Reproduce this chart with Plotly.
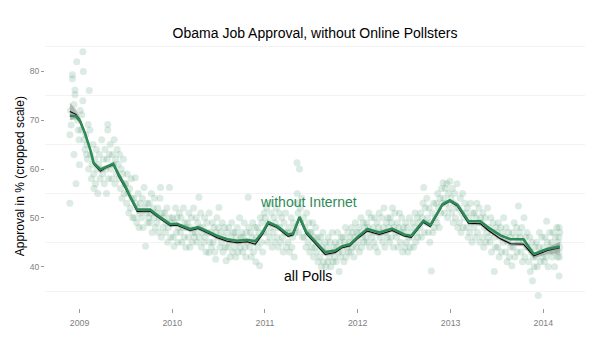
import plotly.graph_objects as go

# ---------------- data ----------------
# smoothed trend, polls without online pollsters (green) and all polls (black)
trend_dates = ["2008-11-24", "2008-12-18", "2009-01-03", "2009-01-23", "2009-02-12", "2009-02-25",
               "2009-03-24", "2009-04-16", "2009-05-14", "2009-06-03", "2009-06-30", "2009-07-19",
               "2009-08-16", "2009-10-06", "2009-11-07", "2009-12-24", "2010-01-20", "2010-03-12",
               "2010-04-13", "2010-05-30", "2010-06-27", "2010-08-06", "2010-09-14", "2010-10-23",
               "2010-11-24", "2010-12-22", "2011-01-14", "2011-02-18", "2011-04-02", "2011-04-22",
               "2011-05-17", "2011-06-12", "2011-07-17", "2011-08-26", "2011-10-05", "2011-11-01",
               "2011-12-02", "2011-12-30", "2012-02-08", "2012-03-26", "2012-05-16", "2012-07-02",
               "2012-07-30", "2012-09-16", "2012-10-13", "2012-11-30", "2012-12-29", "2013-01-28",
               "2013-03-12", "2013-04-28", "2013-05-30", "2013-07-16", "2013-08-25", "2013-10-15",
               "2013-11-24", "2014-01-17", "2014-03-07"]
without_internet = [70.9, 70.8, 69.8, 67.2, 64.0, 61.3, 59.9, 60.5, 61.1, 59.0, 56.5, 54.4,
                    51.7, 51.7, 50.4, 48.7, 48.8, 47.7, 48.1, 47.0, 46.3, 45.6, 45.3, 45.5,
                    45.2, 47.0, 49.1, 48.3, 46.6, 46.8, 50.2, 47.2, 45.3, 43.0, 43.3, 44.2,
                    44.6, 46.0, 47.7, 47.0, 47.8, 46.6, 46.3, 49.4, 48.5, 52.8, 53.6, 52.7,
                    49.3, 49.3, 48.0, 46.4, 45.6, 45.6, 42.6, 43.6, 44.1]
all_polls = [71.8, 71.2, 70.0, 67.4, 64.0, 61.1, 59.6, 60.3, 60.9, 58.6, 56.1, 54.1,
             51.3, 51.4, 50.1, 48.4, 48.5, 47.4, 47.8, 46.7, 45.9, 45.2, 44.9, 45.1,
             44.6, 46.6, 48.8, 48.0, 46.2, 46.5, 49.9, 46.8, 44.8, 42.5, 42.9, 43.9,
             44.3, 45.7, 47.3, 46.6, 47.4, 46.3, 46.0, 49.1, 48.2, 52.6, 53.4, 52.4,
             48.9, 48.8, 47.4, 45.7, 44.7, 44.6, 42.2, 43.3, 43.9]
all_polls_band = [1.8, 1.0, 0.6, 0.5, 0.5, 0.4, 0.4, 0.4, 0.4, 0.4, 0.4, 0.4,
                  0.4, 0.4, 0.3, 0.3, 0.3, 0.3, 0.3, 0.3, 0.3, 0.3, 0.3, 0.3,
                  0.3, 0.3, 0.3, 0.3, 0.3, 0.3, 0.4, 0.3, 0.3, 0.3, 0.3, 0.3,
                  0.3, 0.3, 0.3, 0.3, 0.3, 0.3, 0.3, 0.3, 0.3, 0.3, 0.3, 0.3,
                  0.3, 0.3, 0.3, 0.3, 0.4, 0.4, 0.5, 0.7, 1.2]

# individual polls: (month, day, approval)
polls_2008 = [(11, 24, 53), (11, 24, 67), (11, 27, 72), (11, 29, 69),
              (12, 4, 79.3), (12, 4, 78.5), (12, 10, 73.2), (12, 10, 63), (12, 14, 76.2), (12, 14, 75.2),
              (12, 18, 57), (12, 21, 82), (12, 24, 70), (12, 27, 68), (12, 7, 71), (12, 30, 66)]
polls_2009 = [(1, 1, 60.9), (1, 4, 72), (1, 7, 68), (1, 10, 71.1), (1, 14, 84), (1, 14, 74), (1, 16, 80),
              (1, 19, 66), (1, 22, 64), (1, 25, 67), (1, 28, 63), (1, 30, 65),
              (2, 1, 62), (2, 4, 69.1), (2, 6, 60), (2, 8, 76.1), (2, 11, 68), (2, 14, 63), (2, 17, 58),
              (2, 20, 61), (2, 23, 65), (2, 26, 59), (2, 27, 56),
              (3, 2, 62), (3, 5, 57), (3, 8, 64), (3, 11, 60), (3, 14, 55), (3, 17, 61), (3, 20, 63),
              (3, 23, 58), (3, 26, 60), (3, 29, 66),
              (4, 2, 59), (4, 5, 62), (4, 8, 57), (4, 11, 64), (4, 14, 60), (4, 17, 55), (4, 20, 62),
              (4, 22, 69.1), (4, 22, 68), (4, 25, 58), (4, 28, 63),
              (5, 2, 65), (5, 5, 60), (5, 8, 58), (5, 11, 63), (5, 14, 61), (5, 17, 66), (5, 20, 57),
              (5, 23, 62), (5, 26, 59), (5, 29, 64),
              (6, 2, 61), (6, 5, 58), (6, 8, 63), (6, 11, 56), (6, 14, 60), (6, 17, 54), (6, 20, 59),
              (6, 23, 62), (6, 26, 55), (6, 29, 57),
              (7, 2, 57), (7, 5, 53), (7, 8, 59), (7, 11, 55), (7, 14, 51), (7, 17, 56), (7, 20, 52),
              (7, 23, 58), (7, 26, 54), (7, 29, 50),
              (8, 2, 54), (8, 5, 50), (8, 8, 58.2), (8, 11, 53), (8, 14, 49), (8, 17, 52), (8, 20, 55),
              (8, 23, 48), (8, 26, 51), (8, 29, 53),
              (9, 2, 50), (9, 5, 54), (9, 8, 48), (9, 12, 56.2), (9, 15, 52), (9, 18, 44.2), (9, 21, 51),
              (9, 24, 53), (9, 27, 49), (9, 30, 50),
              (10, 2, 53), (10, 5, 49), (10, 8, 51), (10, 11, 55), (10, 14, 47), (10, 17, 52), (10, 20, 50),
              (10, 23, 54), (10, 26, 48), (10, 29, 51),
              (11, 2, 49), (11, 5, 52), (11, 8, 47), (11, 11, 50), (11, 14, 54), (11, 16, 56.2), (11, 19, 46),
              (11, 22, 51), (11, 25, 48), (11, 28, 50),
              (12, 2, 51), (12, 5, 47), (12, 8, 49), (12, 11, 52), (12, 14, 45), (12, 17, 48), (12, 21, 56.2),
              (12, 23, 50), (12, 26, 46), (12, 29, 49)]
polls_2010 = [(1, 2, 50), (1, 5, 46), (1, 8, 44.2), (1, 11, 49), (1, 14, 52), (1, 17, 47), (1, 20, 50),
              (1, 23, 45), (1, 26, 48), (1, 29, 51),
              (2, 2, 47), (2, 5, 50), (2, 8, 45), (2, 11, 48), (2, 14, 52), (2, 17, 46), (2, 20, 49),
              (2, 23, 44), (2, 26, 48),
              (3, 2, 49), (3, 5, 46), (3, 8, 51), (3, 11, 44), (3, 14, 48), (3, 17, 50), (3, 20, 45),
              (3, 23, 47), (3, 26, 52), (3, 29, 46),
              (4, 2, 47), (4, 5, 50), (4, 8, 45), (4, 11, 49), (4, 16, 54.2), (4, 17, 46), (4, 20, 48),
              (4, 23, 51), (4, 26, 44), (4, 29, 47),
              (5, 2, 48), (5, 5, 45), (5, 8, 50), (5, 11, 46), (5, 14, 43), (5, 17, 49), (5, 20, 47),
              (5, 25, 42.9), (5, 26, 51), (5, 29, 45),
              (6, 2, 47), (6, 5, 44), (6, 8, 49), (6, 11, 45), (6, 14, 48), (6, 17, 43), (6, 21, 41.5),
              (6, 23, 47), (6, 26, 50), (6, 29, 46),
              (7, 2, 48), (7, 4, 52.1), (7, 8, 44), (7, 11, 47), (7, 14, 45), (7, 17, 49), (7, 20, 43),
              (7, 23, 46), (7, 26, 48), (7, 29, 44),
              (8, 1, 41.2), (8, 5, 47), (8, 8, 44), (8, 11, 48), (8, 14, 45), (8, 17, 42), (8, 20, 46),
              (8, 23, 49), (8, 26, 43), (8, 29, 47),
              (9, 2, 44), (9, 5, 47), (9, 8, 42), (9, 11, 46), (9, 14, 48), (9, 17, 43), (9, 20, 45),
              (9, 23, 50), (9, 26, 44), (9, 29, 46),
              (10, 2, 47), (10, 5, 43), (10, 8, 46), (10, 11, 49), (10, 14, 44), (10, 17, 42), (10, 20, 47),
              (10, 23, 45), (10, 27, 54.2), (10, 29, 48),
              (11, 2, 44), (11, 5, 47), (11, 8, 42), (11, 11, 46), (11, 14, 49), (11, 17, 43), (11, 20, 45),
              (11, 23, 48), (11, 26, 41), (11, 29, 46),
              (12, 2, 48), (12, 5, 44), (12, 8, 47), (12, 11, 40.2), (12, 14, 50), (12, 17, 45), (12, 20, 49),
              (12, 23, 43), (12, 26, 47), (12, 29, 51)]
polls_2011 = [(1, 2, 50), (1, 5, 47), (1, 8, 52), (1, 11, 45), (1, 14, 49), (1, 17, 53), (1, 20, 46),
              (1, 23, 48), (1, 26, 51), (1, 29, 44),
              (2, 2, 47), (2, 5, 50), (2, 8, 45), (2, 11, 49), (2, 14, 52), (2, 17, 46), (2, 20, 48),
              (2, 23, 44), (2, 26, 51),
              (3, 2, 48), (3, 5, 45), (3, 8, 50), (3, 11, 46), (3, 14, 43), (3, 17, 49), (3, 20, 47),
              (3, 23, 51), (3, 26, 44), (3, 29, 47),
              (4, 2, 45), (4, 5, 48), (4, 8, 43), (4, 11, 47), (4, 14, 50), (4, 17, 44), (4, 20, 46),
              (4, 23, 49), (4, 26, 42), (4, 29, 47),
              (5, 2, 48), (5, 5, 53), (5, 7, 61.3), (5, 8, 55), (5, 11, 51), (5, 14, 47), (5, 17, 60),
              (5, 20, 52), (5, 23, 49), (5, 26, 54), (5, 29, 46),
              (6, 2, 50), (6, 5, 46), (6, 8, 48), (6, 11, 44), (6, 14, 51), (6, 17, 47), (6, 20, 45),
              (6, 23, 49), (6, 26, 43), (6, 29, 47),
              (7, 2, 47), (7, 5, 44), (7, 8, 49), (7, 11, 42), (7, 14, 46), (7, 17, 44), (7, 20, 48),
              (7, 23, 43), (7, 26, 46), (7, 29, 41),
              (8, 2, 45), (8, 5, 42), (8, 8, 46), (8, 11, 40), (8, 14, 44), (8, 17, 47), (8, 20, 41),
              (8, 23, 43), (8, 26, 45), (8, 29, 40),
              (9, 2, 44), (9, 5, 41), (9, 8, 46), (9, 11, 42), (9, 14, 45), (9, 17, 40), (9, 20, 43),
              (9, 23, 47), (9, 26, 41), (9, 29, 44),
              (10, 2, 42), (10, 5, 45), (10, 8, 41), (10, 11, 44), (10, 14, 47), (10, 17, 43), (10, 20, 39),
              (10, 23, 45), (10, 26, 42), (10, 29, 46),
              (11, 2, 43), (11, 5, 46), (11, 8, 41), (11, 11, 45), (11, 14, 48), (11, 17, 42), (11, 20, 44),
              (11, 23, 47), (11, 26, 43), (11, 29, 45),
              (12, 2, 46), (12, 5, 43), (12, 8, 48), (12, 11, 44), (12, 14, 47), (12, 17, 42), (12, 20, 46),
              (12, 23, 49), (12, 26, 44), (12, 29, 47)]
polls_2012 = [(1, 2, 45), (1, 5, 48), (1, 8, 43), (1, 11, 47), (1, 14, 50), (1, 17, 44), (1, 20, 46),
              (1, 23, 49), (1, 26, 45), (1, 29, 48),
              (2, 2, 46), (2, 5, 49), (2, 8, 45), (2, 11, 48), (2, 14, 51), (2, 17, 44), (2, 20, 47),
              (2, 23, 50), (2, 26, 46),
              (3, 2, 48), (3, 5, 45), (3, 8, 50), (3, 11, 44), (3, 14, 47), (3, 17, 49), (3, 20, 43),
              (3, 23, 48), (3, 26, 51), (3, 29, 46),
              (4, 2, 47), (4, 5, 50), (4, 8, 45), (4, 11, 48), (4, 14, 52), (4, 17, 44), (4, 20, 47),
              (4, 23, 49), (4, 26, 46), (4, 29, 50),
              (5, 2, 48), (5, 5, 45), (5, 8, 50), (5, 11, 46), (5, 14, 49), (5, 17, 52), (5, 20, 44),
              (5, 23, 48), (5, 26, 51), (5, 29, 47),
              (6, 2, 46), (6, 5, 49), (6, 8, 44), (6, 11, 48), (6, 14, 51), (6, 17, 45), (6, 20, 47),
              (6, 23, 50), (6, 26, 43), (6, 29, 48),
              (7, 2, 47), (7, 5, 44), (7, 8, 49), (7, 11, 45), (7, 14, 48), (7, 17, 43), (7, 20, 46),
              (7, 23, 50), (7, 26, 44), (7, 29, 47),
              (8, 2, 46), (8, 5, 49), (8, 8, 44), (8, 11, 48), (8, 14, 51), (8, 17, 45), (8, 20, 47),
              (8, 23, 50), (8, 26, 46), (8, 29, 49),
              (9, 2, 48), (9, 5, 51), (9, 8, 46), (9, 11, 50), (9, 14, 53), (9, 17, 56.2), (9, 20, 47),
              (9, 23, 52), (9, 26, 49), (9, 29, 54),
              (10, 2, 50), (10, 5, 47), (10, 8, 52), (10, 11, 45), (10, 14, 49), (10, 17, 39.1), (10, 20, 51),
              (10, 23, 47), (10, 26, 53), (10, 29, 48),
              (11, 2, 50), (11, 5, 53), (11, 8, 49), (11, 11, 55), (11, 14, 52), (11, 17, 48), (11, 20, 54),
              (11, 23, 51), (11, 26, 56), (11, 29, 53),
              (12, 2, 57.2), (12, 5, 54), (12, 8, 51), (12, 11, 56), (12, 14, 53), (12, 17, 57), (12, 20, 50),
              (12, 23, 55), (12, 26, 52), (12, 29, 57.5)]
polls_2013 = [(1, 2, 54), (1, 5, 51), (1, 8, 56), (1, 11, 49), (1, 14, 53), (1, 17, 55), (1, 20, 50),
              (1, 23, 52), (1, 26, 57), (1, 29, 48),
              (2, 2, 52), (2, 5, 49), (2, 8, 54), (2, 11, 47), (2, 14, 51), (2, 17, 55), (2, 20, 48),
              (2, 23, 50), (2, 26, 53),
              (3, 2, 51), (3, 5, 48), (3, 8, 52), (3, 11, 46), (3, 14, 50), (3, 17, 47), (3, 20, 53),
              (3, 23, 49), (3, 26, 45), (3, 29, 51),
              (4, 2, 48), (4, 5, 51), (4, 8, 46), (4, 11, 50), (4, 14, 53), (4, 17, 47), (4, 20, 49),
              (4, 23, 52), (4, 26, 45), (4, 29, 50),
              (5, 2, 49), (5, 5, 46), (5, 8, 51), (5, 11, 44), (5, 14, 48), (5, 17, 50), (5, 20, 45),
              (5, 23, 47), (5, 26, 52), (5, 29, 46),
              (6, 2, 48), (6, 5, 45), (6, 8, 50), (6, 11, 43), (6, 14, 47), (6, 17, 49), (6, 22, 39),
              (6, 23, 46), (6, 26, 44), (6, 29, 48),
              (7, 2, 47), (7, 5, 44), (7, 8, 49), (7, 11, 42), (7, 14, 46), (7, 17, 48), (7, 20, 43),
              (7, 23, 47), (7, 26, 45), (7, 29, 50),
              (8, 2, 46), (8, 5, 43), (8, 8, 48), (8, 11, 41), (8, 14, 45), (8, 17, 47), (8, 20, 42),
              (8, 23, 46), (8, 26, 44), (8, 30, 40.2),
              (9, 2, 47), (9, 5, 44), (9, 8, 49), (9, 11, 42), (9, 14, 46), (9, 17, 48), (9, 20, 43),
              (9, 25, 52.4), (9, 26, 45), (9, 29, 47),
              (10, 2, 46), (10, 5, 43), (10, 8, 48), (10, 11, 41), (10, 14, 45), (10, 17, 50), (10, 20, 42),
              (10, 23, 46), (10, 26, 44), (10, 29, 47),
              (11, 2, 44), (11, 5, 41), (11, 8, 46), (11, 11, 39), (11, 14, 43), (11, 17, 45), (11, 19, 37.1),
              (11, 23, 42), (11, 26, 40), (11, 29, 44),
              (12, 2, 42), (12, 5, 45), (12, 8, 40), (12, 12, 34.1), (12, 14, 44), (12, 17, 47), (12, 20, 41),
              (12, 23, 43), (12, 26, 46), (12, 29, 42)]
polls_2014 = [(1, 2, 44), (1, 5, 41), (1, 8, 46), (1, 11, 42), (1, 14, 49.3), (1, 17, 45), (1, 20, 40),
              (1, 23, 43), (1, 26, 47), (1, 29, 44),
              (2, 2, 45), (2, 5, 42), (2, 8, 47), (2, 11, 43), (2, 14, 40), (2, 17, 46), (2, 20, 44),
              (2, 23, 48), (2, 26, 42),
              (3, 1, 45), (3, 2, 43), (3, 3, 46), (3, 4, 48), (3, 4, 38.1), (3, 5, 42), (3, 6, 44), (3, 7, 47)]

y_ticks = [40, 50, 60, 70, 80]
y_grid = [35, 45, 55, 65, 75, 85]
x_ticks = ["2009-01-01", "2010-01-01", "2011-01-01", "2012-01-01", "2013-01-01", "2014-01-01"]
x_tick_labels = ["2009", "2010", "2011", "2012", "2013", "2014"]

GREEN = "#2E8B57"
FONT = "Liberation Sans, Arial, sans-serif"

# ---------------- build ----------------
poll_x, poll_y = [], []
for year, pts in [(2008, polls_2008), (2009, polls_2009), (2010, polls_2010), (2011, polls_2011),
                  (2012, polls_2012), (2013, polls_2013), (2014, polls_2014)]:
    for m, d, v in pts:
        poll_x.append(f"{year}-{m:02d}-{d:02d}")
        poll_y.append(v)

band_lo = [a - b for a, b in zip(all_polls, all_polls_band)]
band_hi = [a + b for a, b in zip(all_polls, all_polls_band)]

fig = go.Figure()
fig.add_trace(go.Scatter(x=poll_x, y=poll_y, mode="markers",
                         marker=dict(size=7, color="rgba(46,139,87,0.17)", line=dict(width=0)),
                         hoverinfo="skip"))
fig.add_trace(go.Scatter(x=trend_dates, y=band_lo, mode="lines", line=dict(width=0),
                         hoverinfo="skip"))
fig.add_trace(go.Scatter(x=trend_dates, y=band_hi, mode="lines", line=dict(width=0),
                         fill="tonexty", fillcolor="rgba(140,140,140,0.55)", hoverinfo="skip"))
fig.add_trace(go.Scatter(x=trend_dates, y=all_polls, mode="lines",
                         line=dict(color="black", width=1.1)))
fig.add_trace(go.Scatter(x=trend_dates, y=without_internet, mode="lines",
                         line=dict(color=GREEN, width=2.6)))

fig.add_annotation(x="2011-06-20", y=53.2, text="without Internet", showarrow=False,
                   font=dict(size=14, color=GREEN, family=FONT))
fig.add_annotation(x="2011-06-20", y=38.1, text="all Polls", showarrow=False,
                   font=dict(size=14, color="black", family=FONT))
fig.add_annotation(xref="paper", yref="paper", x=-0.046, y=0.489, text="Approval in % (cropped scale)",
                   textangle=-90, showarrow=False, xanchor="center", yanchor="middle",
                   font=dict(size=12, color="black", family=FONT))

fig.update_layout(
    width=604, height=342,
    margin=dict(l=45, r=19, t=38, b=34),
    paper_bgcolor="white", plot_bgcolor="white",
    showlegend=False,
    font=dict(family=FONT),
    title=dict(text="Obama Job Approval, without Online Pollsters", x=0.5, xref="paper", xanchor="center",
               y=1 - 33 / 342, yanchor="middle", yref="container",
               font=dict(size=14, color="black", family=FONT)),
    xaxis=dict(type="date", range=["2008-08-18", "2014-06-14"], tickvals=x_ticks, ticktext=x_tick_labels,
               showgrid=False, zeroline=False, showline=False, ticks="outside", ticklen=4,
               tickcolor="#9a9a9a", tickwidth=1, ticklabelstandoff=2,
               tickfont=dict(size=8.8, color="#808080")),
    yaxis=dict(range=[31.53, 86.84], tickvals=y_ticks, showgrid=False, zeroline=False, showline=False,
               ticks="outside", ticklen=3, tickcolor="#9a9a9a", tickwidth=1,
               tickfont=dict(size=8.5, color="#808080"),
               minor=dict(tickvals=y_grid, showgrid=True, gridcolor="#f3f3f3", gridwidth=1, ticklen=0)),
)

fig.write_html("out.html")
